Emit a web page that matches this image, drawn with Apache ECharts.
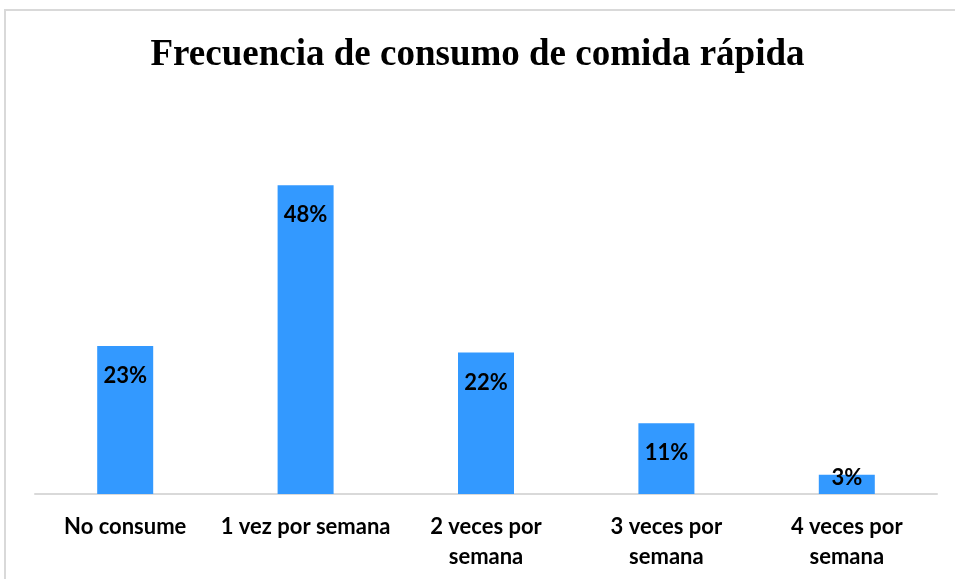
<!DOCTYPE html>
<html>
<head>
<meta charset="utf-8">
<script src="https://cdn.jsdelivr.net/npm/echarts@6/dist/echarts.min.js"></script>
<style>
  html, body { margin: 0; padding: 0; background: #fff; }
  #main { width: 955px; height: 579px; }
</style>
</head>
<body>
<div id="main"></div>
<script>
  // datos
  let categories = ['No consume', '1 vez por semana', '2 veces por\nsemana', '3 veces por\nsemana', '4 veces por\nsemana']
  let values = [23, 48, 22, 11, 3]

  let chart = echarts.init(document.getElementById('main'))
  chart.setOption({
    animation: false,
    title: {
      text: 'Frecuencia de consumo de comida rápida',
      left: 'center',
      top: 32,
      textStyle: {
        fontFamily: 'Liberation Serif',
        fontWeight: 'bold',
        fontSize: 37,
        color: '#000'
      }
    },
    graphic: [{
      type: 'rect',
      shape: { x: 5, y: 10, width: 1000, height: 600 },
      style: { fill: 'none', stroke: '#d9d9d9', lineWidth: 2 },
      silent: true
    }],
    grid: {
      left: 35,
      right: 18,
      top: 108,
      bottom: 85
    },
    xAxis: {
      type: 'category',
      data: categories,
      axisTick: { show: false },
      axisLine: { lineStyle: { color: '#d9d9d9', width: 2 } },
      axisLabel: {
        interval: 0,
        margin: 18,
        lineHeight: 30,
        fontFamily: 'Lato',
        fontWeight: 'bold',
        fontSize: 22,
        color: '#000'
      }
    },
    yAxis: {
      type: 'value',
      min: 0,
      max: 60,
      show: false,
      splitLine: { show: false }
    },
    series: [{
      type: 'bar',
      barWidth: 56,
      itemStyle: { color: '#3399ff' },
      label: {
        show: true,
        position: 'insideTop',
        distance: 19,
        formatter: '{c}%',
        fontFamily: 'Lato',
        fontWeight: 'bold',
        fontSize: 22,
        color: '#000'
      },
      data: values.map(function (v) {
        if (v < 5) {
          return { value: v, label: { position: 'top', distance: -14 } }
        }
        return v
      })
    }]
  })
</script>
</body>
</html>
